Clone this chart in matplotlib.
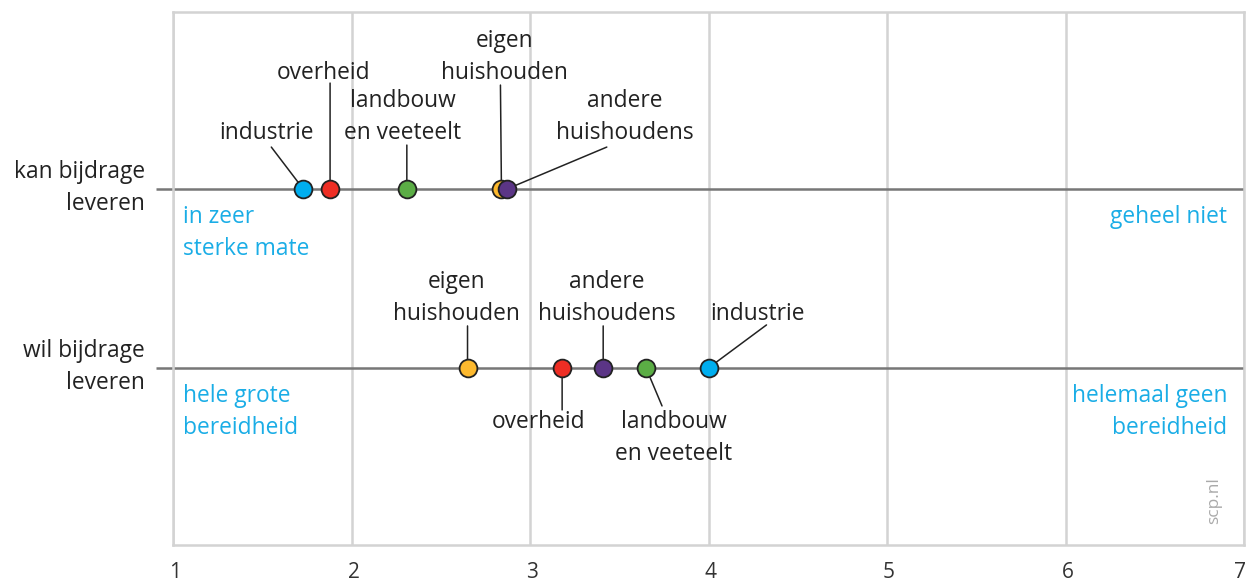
import matplotlib
matplotlib.use("Agg")
import matplotlib.pyplot as plt
from matplotlib.transforms import offset_copy

# ---------------- data ----------------
categories = ["industrie", "overheid", "landbouw\nen veeteelt",
              "eigen\nhuishouden", "andere\nhuishoudens"]
kan_values = [1.73, 1.88, 2.31, 2.84, 2.87]   # kan bijdrage leveren
wil_values = [4.00, 3.18, 3.65, 2.65, 3.41]   # wil bijdrage leveren
row_labels = ["kan bijdrage\nleveren", "wil bijdrage\nleveren"]
x_ticks = [1, 2, 3, 4, 5, 6, 7]
end_labels_kan = ["in zeer\nsterke mate", "geheel niet"]
end_labels_wil = ["hele grote\nbereidheid", "helemaal geen\nbereidheid"]

# ---------------- style ----------------
colors = ["#00AEEF", "#EE2E24", "#5BAD45", "#FDB92E", "#5B3586"]
draw_order = [0, 1, 2, 3, 4]
FONT = "Open Sans"
FS = 16.4
TXT = "#222222"
BLUE_TXT = "#1AADE6"
GAP = 32  # px between baselines

# label layout (pixels): (text dx, first-baseline dy, line-start dx, line-start dy)
layout_kan = [(-37, 50, -32, 42), (-7, 110, 0, 106), (-4, 82, 0, 44),
              (3, 142, -1, 104), (118, 82, 100, 42)]
layout_wil = [(49, 48, 58, 43), (-24, -60, 0, -42), (28, -60, 16, -38),
              (-11, 80, 0, 42), (4, 80, 0, 42)]

W, H = 1247, 584
fig = plt.figure(figsize=(W / 100, H / 100), dpi=100)
left, right, top, bottom = 173, 1244, 12, 545
ax = fig.add_axes([left / W, 1 - bottom / H, (right - left) / W, (bottom - top) / H])

ax.set_xlim(1, 7)
ax.set_ylim(-0.99, 1.99)
ROW_Y = [1, 0]

# grid & frame
for xt in x_ticks:
    ax.axvline(xt, color="#d3d3d3", lw=1.8, zorder=0)
for s in ["top", "bottom", "left", "right"]:
    ax.spines[s].set_color("#d3d3d3")
    ax.spines[s].set_linewidth(1.8)
ax.set_yticks([])
ax.set_xticks([])

# x tick labels
tick_trans = offset_copy(ax.get_xaxis_transform(), fig=fig, x=2, y=-28, units="dots")
for t in x_ticks:
    ax.text(t, 0, str(t), transform=tick_trans, ha="right" if t == x_ticks[-1] else "center",
            va="center", fontsize=15, family=FONT, color="#333333", clip_on=False)

# horizontal row lines (extend a bit to the left of axes)
for ry in ROW_Y:
    ax.plot([0.905, 7], [ry, ry], color="#777777", lw=1.8, zorder=1, clip_on=False,
            solid_capstyle="butt")

def px_text(x, y, dx, dy, s, **kw):
    ax.annotate(s, xy=(x, y), xytext=(dx, dy), textcoords="offset pixels", **kw)

# points, connector lines and labels
for values, ry, layout in [(kan_values, 1, layout_kan), (wil_values, 0, layout_wil)]:
    for i in draw_order:
        v = values[i]
        tdx, tdy, ldx, ldy = layout[i]
        ax.annotate("", xy=(v, ry), xytext=(ldx, ldy), textcoords="offset pixels",
                    arrowprops=dict(arrowstyle="-", color="#222222", lw=1.1,
                                    shrinkA=0, shrinkB=0), zorder=2)
        for k, line in enumerate(categories[i].split("\n")):
            px_text(v, ry, tdx, tdy - k * GAP, line, ha="center", va="baseline",
                    fontsize=FS, family=FONT, color=TXT, zorder=4)
        ax.plot([v], [ry], "o", ms=12.8, mfc=colors[i], mec="#222222", mew=1.3, zorder=3)

# row labels at left
for lab, ry in zip(row_labels, ROW_Y):
    for k, line in enumerate(lab.split("\n")):
        px_text(1, ry, -28, 11 - k * GAP, line, ha="right", va="baseline",
                fontsize=FS, family=FONT, color=TXT, annotation_clip=False)

# blue end labels
for labs, ry in [(end_labels_kan, 1), (end_labels_wil, 0)]:
    for k, line in enumerate(labs[0].split("\n")):
        px_text(1, ry, 10, -34 - k * GAP, line, ha="left", va="baseline",
                fontsize=FS, family=FONT, color=BLUE_TXT)
    for k, line in enumerate(labs[1].split("\n")):
        px_text(7, ry, -17, -34 - k * GAP, line, ha="right", va="baseline",
                fontsize=FS, family=FONT, color=BLUE_TXT)

# watermark
ax.text(0.9795, 0.084, "scp.nl", transform=ax.transAxes, rotation=90, ha="right",
        va="center", fontsize=12.5, family=FONT, color="#aaaaaa")

fig.savefig("out.png", dpi=100)
